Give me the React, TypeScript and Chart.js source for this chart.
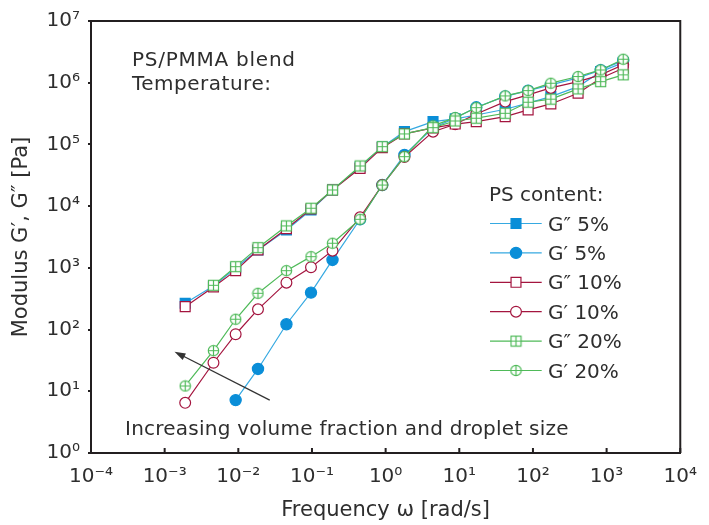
import React, { useEffect, useRef } from 'react';
import { Chart, registerables } from 'chart.js';
import { drawPoint } from 'chart.js/helpers';

Chart.register(...registerables);

// ---------- data ----------
const frequency = [0.0019, 0.0046, 0.0092, 0.0185, 0.045, 0.097, 0.19, 0.45, 0.9, 1.8, 4.4, 8.8, 17, 42, 86, 175, 410, 830, 1680];

const gpp5 = [267, 509, 996, 1950, 4110, 8670, 18300, 43100, 91000, 161000, 234000, 259000, 300000, 372000, 468000, 596000, 865000, 1510000, 2120000];
const gp5 = [null, null, 7.2, 23, 122, 397, 1343, 6130, 22000, 67600, 186000, 265000, 400000, 600000, 745000, 920000, 1200000, 1600000, 2300000];
const gpp10 = [235, 490, 901, 1950, 4300, 9000, 18300, 41000, 88700, 148000, 185000, 214000, 234000, 282000, 362000, 453000, 676000, 1180000, 1720000];
const gp10 = [6.5, 29, 84, 213, 576, 1023, 1900, 6600, 22000, 62700, 161000, 212000, 312000, 494000, 634000, 824000, 1040000, 1340000, 1950000];
const gpp20 = [null, 522, 1046, 2125, 4780, 9250, 18300, 44800, 92100, 148000, 187000, 240000, 266000, 320000, 483000, 541000, 794000, 1040000, 1340000];
const gp20 = [12.2, 45.5, 147, 387, 901, 1520, 2505, 6130, 22000, 63400, 200000, 272000, 394000, 611000, 745000, 982000, 1260000, 1610000, 2400000];

const seriesLabels = ['G″ 5%', 'G′ 5%', 'G″ 10%', 'G′ 10%', 'G″ 20%', 'G′ 20%'];
const xTickExponents = [-4, -3, -2, -1, 0, 1, 2, 3, 4];
const yTickExponents = [0, 1, 2, 3, 4, 5, 6, 7];

const xTitle = 'Frequency ω [rad/s]';
const yTitle = 'Modulus G′, G″ [Pa]';
const noteLines = ['PS/PMMA blend', 'Temperature:'];
const arrowNote = 'Increasing volume fraction and droplet size';
const legendTitle = 'PS content:';
const arrowFrom = { x: 0.0267, y: 7.2 };
const arrowTo = { x: 0.00136, y: 43.8 };

// ---------- style ----------
const FONT = '"DejaVu Sans", sans-serif';
const TEXT = '#2e2e2e';
const AXIS = '#231f20';
const BLUE_LINE = '#36a9e1';
const BLUE_FILL = '#0a8ed8';
const RED = '#a4153f';
const GREEN = '#4fba59';

const SUP: Record<string, string> = {
  '-': '⁻', '0': '⁰', '1': '¹', '2': '²', '3': '³', '4': '⁴', '5': '⁵', '6': '⁶', '7': '⁷', '8': '⁸', '9': '⁹',
};
const pow10Label = (v: number) => {
  const e = Math.round(Math.log10(v));
  return '10' + String(e).split('').map((c) => SUP[c]).join('');
};

function makeMarker(kind: 'grid' | 'plus', color: string): HTMLCanvasElement {
  const s = 13;
  const c = document.createElement('canvas');
  c.width = s;
  c.height = s;
  const g = c.getContext('2d')!;
  g.strokeStyle = color;
  g.fillStyle = '#ffffff';
  g.lineWidth = 1.2;
  const m = s / 2;
  if (kind === 'grid') {
    g.fillRect(1.5, 1.5, 10, 10);
    g.strokeRect(1.5, 1.5, 10, 10);
    g.beginPath();
    g.moveTo(m, 1.5); g.lineTo(m, 11.5);
    g.moveTo(1.5, m); g.lineTo(11.5, m);
    g.stroke();
  } else {
    g.beginPath();
    g.arc(m, m, 5.2, 0, Math.PI * 2);
    g.fill();
    g.stroke();
    g.beginPath();
    g.moveTo(m, 1.3); g.lineTo(m, 11.7);
    g.moveTo(1.3, m); g.lineTo(11.7, m);
    g.stroke();
  }
  return c;
}

const toPoints = (vals: (number | null)[]) =>
  frequency.map((f, i) => ({ x: f, y: vals[i] })).filter((p) => p.y !== null) as { x: number; y: number }[];

const annotationPlugin = {
  id: 'annotationPlugin',
  afterDraw(chart: any) {
    const { ctx, chartArea: ca, scales } = chart;
    const xs = scales.x;
    const ys = scales.y;
    ctx.save();
    // frame top / right
    ctx.strokeStyle = AXIS;
    ctx.lineWidth = 2;
    ctx.beginPath();
    ctx.moveTo(ca.left - 1, ca.top);
    ctx.lineTo(ca.right, ca.top);
    ctx.lineTo(ca.right, ca.bottom);
    ctx.stroke();
    // inward x ticks
    ctx.beginPath();
    xs.ticks.forEach((t: any) => {
      const px = xs.getPixelForValue(t.value);
      ctx.moveTo(px, ca.bottom);
      ctx.lineTo(px, ca.bottom - 5);
    });
    ctx.stroke();

    // texts
    ctx.fillStyle = TEXT;
    ctx.font = `20px ${FONT}`;
    ctx.textAlign = 'left';
    ctx.textBaseline = 'alphabetic';
    ctx.letterSpacing = '0.75px';
    ctx.fillText(noteLines[0], ca.left + 41, ca.top + 45);
    ctx.letterSpacing = '0.5px';
    ctx.fillText(noteLines[1], ca.left + 41, ca.top + 68.5);
    ctx.letterSpacing = '0.24px';
    ctx.fillText(arrowNote, ca.left + 34, ca.top + 414);
    ctx.letterSpacing = '0px';

    // arrow
    const x1 = xs.getPixelForValue(arrowFrom.x);
    const y1 = ys.getPixelForValue(arrowFrom.y);
    const x2 = xs.getPixelForValue(arrowTo.x);
    const y2 = ys.getPixelForValue(arrowTo.y);
    const ang = Math.atan2(y2 - y1, x2 - x1);
    const hl = 11;
    const hw = 3.6;
    ctx.strokeStyle = '#333333';
    ctx.fillStyle = '#333333';
    ctx.lineWidth = 1.3;
    ctx.beginPath();
    ctx.moveTo(x1, y1);
    ctx.lineTo(x2 - Math.cos(ang) * (hl - 2), y2 - Math.sin(ang) * (hl - 2));
    ctx.stroke();
    ctx.beginPath();
    ctx.moveTo(x2, y2);
    ctx.lineTo(x2 - Math.cos(ang) * hl - Math.sin(ang) * hw, y2 - Math.sin(ang) * hl + Math.cos(ang) * hw);
    ctx.lineTo(x2 - Math.cos(ang) * hl + Math.sin(ang) * hw, y2 - Math.sin(ang) * hl - Math.cos(ang) * hw);
    ctx.closePath();
    ctx.fill();

    // legend
    ctx.fillStyle = TEXT;
    ctx.fillText(legendTitle, ca.left + 398, ca.top + 179.7);
    chart.data.datasets.forEach((ds: any, i: number) => {
      const cy = ca.top + 202.5 + i * 29.4;
      const lx0 = ca.left + 399;
      const lx1 = ca.left + 450.7;
      const mx = ca.left + 425;
      ctx.strokeStyle = ds.borderColor;
      ctx.lineWidth = ds.borderWidth;
      ctx.beginPath();
      ctx.moveTo(lx0, cy);
      ctx.lineTo(lx1, cy);
      ctx.stroke();
      ctx.fillStyle = ds.pointBackgroundColor;
      ctx.strokeStyle = ds.pointBorderColor;
      ctx.lineWidth = ds.pointBorderWidth;
      drawPoint(ctx, { pointStyle: ds.pointStyle, radius: ds.pointRadius, rotation: 0, borderWidth: ds.pointBorderWidth }, mx, cy);
      ctx.fillStyle = TEXT;
      ctx.fillText(ds.label, ca.left + 457, cy + 7);
    });
    ctx.restore();
  },
};

export default function App() {
  const ref = useRef<HTMLCanvasElement | null>(null);

  useEffect(() => {
    document.body.style.margin = '0';
    const canvas = ref.current;
    if (!canvas) return;
    const gridMarker = makeMarker('grid', GREEN);
    const plusMarker = makeMarker('plus', GREEN);

    const base = { showLine: true, tension: 0, borderWidth: 1.2, pointBorderWidth: 1.2 };
    const datasets: any[] = [
      { ...base, label: seriesLabels[0], data: toPoints(gpp5), borderColor: BLUE_LINE, pointStyle: 'rect', pointRadius: 7, pointBackgroundColor: BLUE_FILL, pointBorderColor: BLUE_FILL, order: 2 },
      { ...base, label: seriesLabels[1], data: toPoints(gp5), borderColor: BLUE_LINE, pointStyle: 'circle', pointRadius: 5.6, pointBackgroundColor: BLUE_FILL, pointBorderColor: BLUE_FILL, order: 2 },
      { ...base, label: seriesLabels[2], data: toPoints(gpp10), borderColor: RED, pointStyle: 'rect', pointRadius: 7, pointBackgroundColor: '#ffffff', pointBorderColor: RED, order: 1 },
      { ...base, label: seriesLabels[3], data: toPoints(gp10), borderColor: RED, pointStyle: 'circle', pointRadius: 5.4, pointBackgroundColor: '#ffffff', pointBorderColor: RED, order: 1 },
      { ...base, label: seriesLabels[4], data: toPoints(gpp20), borderColor: GREEN, pointStyle: gridMarker, pointRadius: 6, pointBackgroundColor: '#ffffff', pointBorderColor: GREEN, order: 0 },
      { ...base, label: seriesLabels[5], data: toPoints(gp20), borderColor: GREEN, pointStyle: plusMarker, pointRadius: 6, pointBackgroundColor: '#ffffff', pointBorderColor: GREEN, order: 0 },
    ];

    const chart = new Chart(canvas, {
      type: 'scatter',
      data: { datasets },
      options: {
        animation: false,
        responsive: false,
        devicePixelRatio: 1,
        layout: { padding: { top: 21, right: 16, left: 0, bottom: 0 } },
        plugins: { legend: { display: false }, tooltip: { enabled: false } },
        scales: {
          x: {
            type: 'logarithmic',
            position: 'bottom',
            min: 1e-4,
            max: 1e4,
            afterBuildTicks: (axis: any) => {
              axis.ticks = xTickExponents.map((e) => ({ value: Math.pow(10, e) }));
            },
            afterFit: (axis: any) => {
              axis.height = 72;
            },
            grid: { drawOnChartArea: false, drawTicks: false },
            border: { display: true, color: AXIS, width: 2 },
            ticks: { callback: (v: any) => pow10Label(Number(v)), font: { family: FONT, size: 20 }, color: TEXT, padding: 12, maxRotation: 0, autoSkip: false },
            title: { display: true, text: xTitle, font: { family: FONT, size: 21 }, color: TEXT, padding: { top: 0, bottom: 1.4 } },
          },
          y: {
            type: 'logarithmic',
            position: 'left',
            min: 1,
            max: 1e7,
            afterBuildTicks: (axis: any) => {
              axis.ticks = yTickExponents.map((e) => ({ value: Math.pow(10, e) }));
            },
            afterFit: (axis: any) => {
              axis.width = 91;
            },
            grid: { drawOnChartArea: false, drawTicks: true, tickLength: 3, color: AXIS, lineWidth: 2 },
            border: { display: true, color: AXIS, width: 2 },
            ticks: { callback: (v: any) => pow10Label(Number(v)), font: { family: FONT, size: 20 }, color: TEXT, padding: 8, autoSkip: false },
            title: { display: true, text: yTitle, font: { family: FONT, size: 21 }, color: TEXT, padding: { top: 9.4, bottom: 0 } },
          },
        },
      },
      plugins: [annotationPlugin],
    });
    return () => chart.destroy();
  }, []);

  return (
    <div style={{ width: 709, height: 525, background: '#ffffff' }}>
      <canvas ref={ref} width={709} height={525} style={{ display: 'block' }} />
    </div>
  );
}
